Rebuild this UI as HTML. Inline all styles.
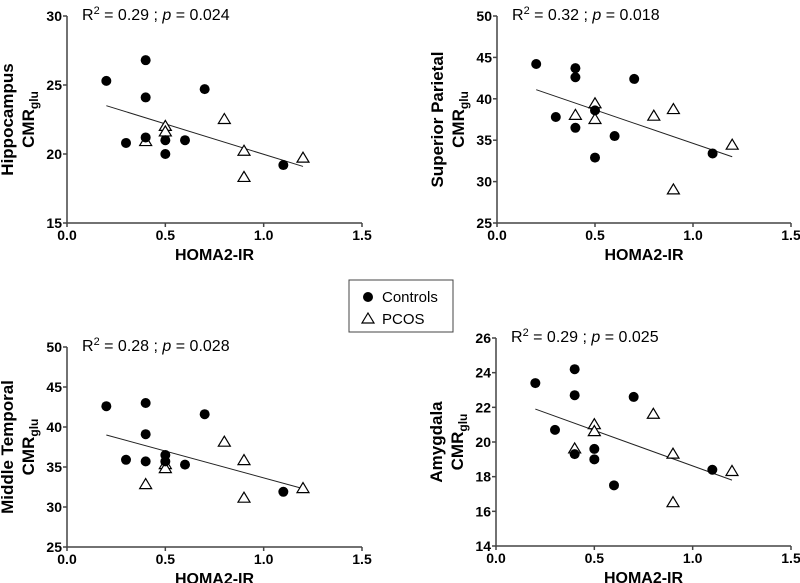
<!DOCTYPE html>
<html><head><meta charset="utf-8"><style>
body{margin:0;background:#fff}
svg{display:block;font-family:"Liberation Sans",Arial,sans-serif}
</style></head><body>
<svg id="c" width="800" height="583"></svg>
<script>
const xTicks=[0.0,0.5,1.0,1.5];
const xTickLabels=["0.0","0.5","1.0","1.5"];
const ctrlX=[0.2,0.4,0.4,0.4,0.3,0.5,0.5,0.6,0.7,1.1];
const pcosX=[0.4,0.5,0.5,0.8,0.9,0.9,1.2];
const hipCtrl=[25.3,26.8,24.1,21.2,20.8,21.0,20.0,21.0,24.7,19.2];
const hipPcos=[20.9,22.0,21.6,22.5,20.2,18.3,19.7];
const hipFit=[23.5,19.1];
const spCtrl=[44.2,43.7,42.6,36.5,37.8,38.6,32.9,35.5,42.4,33.4];
const spPcos=[38.0,39.4,37.5,37.9,38.7,29.0,34.4];
const spFit=[41.1,33.0];
const mtCtrl=[42.6,43.0,39.1,35.7,35.9,36.5,35.7,35.3,41.6,31.9];
const mtPcos=[32.8,35.3,34.8,38.1,35.8,31.1,32.3];
const mtFit=[39.0,32.3];
const amCtrl=[23.4,24.2,22.7,19.3,20.7,19.6,19.0,17.5,22.6,18.4];
const amPcos=[19.6,21.0,20.6,21.6,19.3,16.5,18.3];
const amFit=[21.9,17.8];
const fitX=[0.2,1.2];
const hipTicks=[15,20,25,30], spTicks=[25,30,35,40,45,50], mtTicks=[25,30,35,40,45,50], amTicks=[14,16,18,20,22,24,26];

const NS="http://www.w3.org/2000/svg";
const svg=document.getElementById('c');
function el(t,a,p){const e=document.createElementNS(NS,t);for(const k in a)e.setAttribute(k,a[k]);(p||svg).appendChild(e);return e;}

function panel(o){
  const g=el('g',{});
  
  
  const xs=v=>o.x0+(v-0)/1.5*(o.x1-o.x0);
  const ys=v=>o.yb-(v-o.ymin)/(o.ymax-o.ymin)*(o.yb-o.yt);
  const ax=el('path',{d:`M${o.x0},${o.yt} V${o.yb} H${o.x1}`,stroke:'#444',fill:'none','stroke-width':1.5},g);
  
  o.yticks.forEach(t=>{
    el('line',{x1:o.x0-4,x2:o.x0,y1:ys(t),y2:ys(t),stroke:'#444','stroke-width':1.5},g);
    const tx=el('text',{x:o.x0-5,y:ys(t)+5,'text-anchor':'end','font-size':14,'font-weight':'bold'},g);
    tx.textContent=t;
    
  });
  xTicks.forEach((t,i)=>{
    el('line',{x1:xs(t),x2:xs(t),y1:o.yb,y2:o.yb+4,stroke:'#444','stroke-width':1.5},g);
    const tx=el('text',{x:xs(t),y:o.yb+17,'text-anchor':'middle','font-size':14,'font-weight':'bold'},g);
    tx.textContent=xTickLabels[i];
    
  });
  const xt=el('text',{x:(o.x0+o.x1)/2,y:o.yb+37,'text-anchor':'middle','font-size':16,'font-weight':'bold'},g);
  xt.textContent='HOMA2-IR';
  
  const cy=(o.yt+o.yb)/2;
  const yt=el('text',{transform:`translate(${o.x0-54},${cy}) rotate(-90)`,'text-anchor':'middle','font-size':17,'font-weight':'bold'},g);
  yt.textContent=o.title;
  
  const yt2=el('text',{transform:`translate(${o.x0-33},${cy}) rotate(-90)`,'text-anchor':'middle','font-size':17,'font-weight':'bold'},g);
  yt2.innerHTML='CMR<tspan font-size="12" dy="4">glu</tspan>';
  
  const st=el('text',{x:o.x0+15,y:o.yt+4,'font-size':16},g);
  st.innerHTML=`R<tspan font-size="11" dy="-6">2</tspan><tspan dy="6"> = ${o.r2} ; </tspan><tspan font-style="italic">p</tspan> = ${o.p}`;
  
  const ln=el('line',{x1:xs(fitX[0]),y1:ys(o.fit[0]),x2:xs(fitX[1]),y2:ys(o.fit[1]),stroke:'#222','stroke-width':1},g);
  
  o.pcos.forEach((v,i)=>{
    const x=xs(pcosX[i]),y=ys(v);
    const p=el('path',{d:`M${x},${y-6} L${x+6},${y+4} L${x-6},${y+4} Z`,fill:'#fff',stroke:'#000','stroke-width':1.2},g);
    
  });
  o.ctrl.forEach((v,i)=>{
    const c=el('circle',{cx:xs(ctrlX[i]),cy:ys(v),r:5,fill:'#000'},g);
    
  });
}
panel({name:'hippocampus',x0:67,x1:362,yt:16,yb:223,ymin:15,ymax:30,yticks:hipTicks,ctrl:hipCtrl,pcos:hipPcos,fit:hipFit,title:'Hippocampus',r2:'0.29',p:'0.024'});
panel({name:'superior-parietal',x0:497,x1:791,yt:16,yb:223,ymin:25,ymax:50,yticks:spTicks,ctrl:spCtrl,pcos:spPcos,fit:spFit,title:'Superior Parietal',r2:'0.32',p:'0.018'});
panel({name:'middle-temporal',x0:67,x1:362,yt:347,yb:547,ymin:25,ymax:50,yticks:mtTicks,ctrl:mtCtrl,pcos:mtPcos,fit:mtFit,title:'Middle Temporal',r2:'0.28',p:'0.028'});
panel({name:'amygdala',x0:496,x1:791,yt:338,yb:546,ymin:14,ymax:26,yticks:amTicks,ctrl:amCtrl,pcos:amPcos,fit:amFit,title:'Amygdala',r2:'0.29',p:'0.025'});

const lg=el('g',{});

el('rect',{x:349,y:280,width:104,height:52,fill:'#fff',stroke:'#444','stroke-width':1},lg);
const lc=el('circle',{cx:368,cy:297,r:5,fill:'#000'},lg);

const t1=el('text',{x:382,y:302,'font-size':15},lg);t1.textContent='Controls';

const lp=el('path',{d:'M368,313 L374,323 L362,323 Z',fill:'#fff',stroke:'#000','stroke-width':1.2},lg);

const t2=el('text',{x:382,y:324,'font-size':15},lg);t2.textContent='PCOS';

</script>
</body></html>
